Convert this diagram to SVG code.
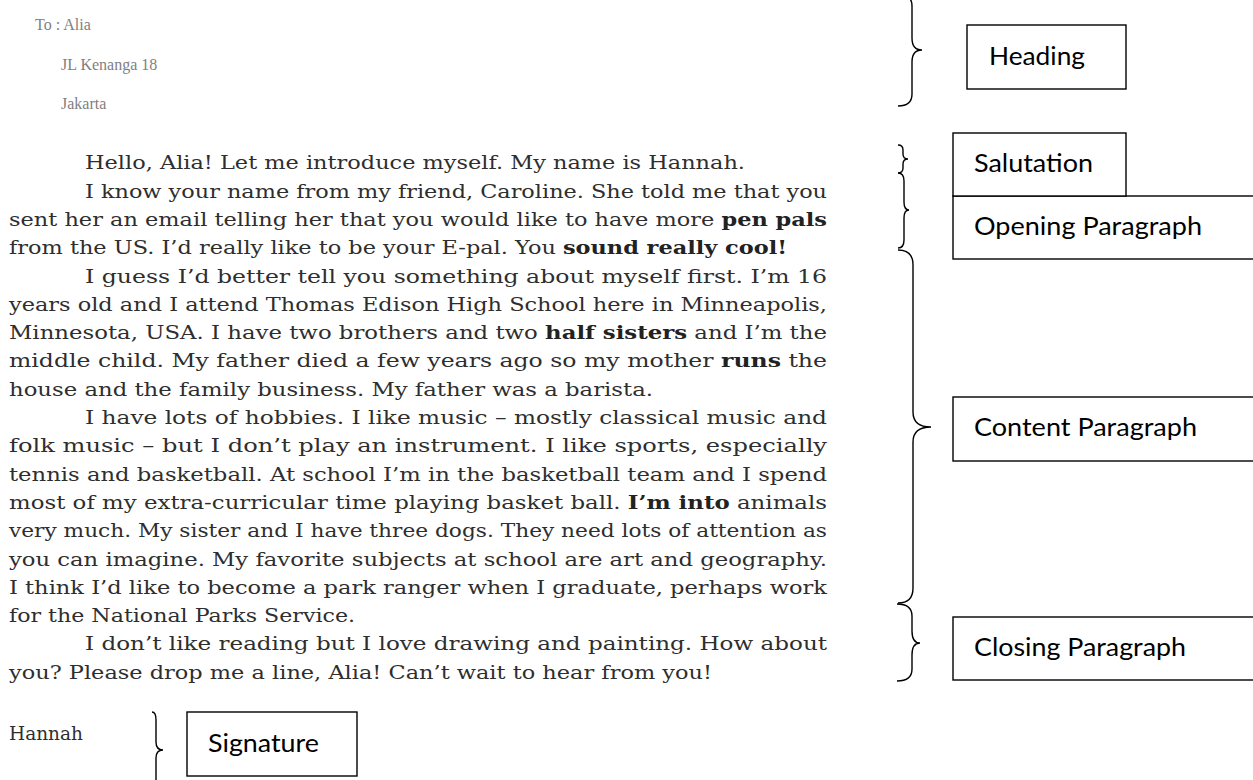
<svg xmlns="http://www.w3.org/2000/svg" width="1253" height="780" viewBox="0 0 1253 780">
<style>
.hd{font-family:"Liberation Serif","Times New Roman",serif;font-size:16px;fill:#7f7f7f}
.bd{font-family:"DejaVu Serif","Liberation Serif",serif;font-size:18.5px;fill:#2e2e2e}
.b{font-weight:bold;fill:#222}
.lb{font-family:Lato,"Open Sans","Liberation Sans",sans-serif;font-size:25px;fill:#000}
.box{fill:#fff;stroke:#000;stroke-width:1.4}
.br{fill:none;stroke:#000;stroke-width:1.4}
</style>
<rect width="1253" height="780" fill="#fff"/>
<g id="letter-heading">
<text class="hd" x="35" y="30">To : Alia</text>
<text class="hd" x="61" y="70">JL Kenanga 18</text>
<text class="hd" x="61" y="109">Jakarta</text>
</g>
<g id="letter-body">
<text class="bd" x="85" y="169.3" textLength="660" lengthAdjust="spacingAndGlyphs">Hello, Alia! Let me introduce myself. My name is Hannah.</text>
<text class="bd" x="85" y="197.6" textLength="742" lengthAdjust="spacingAndGlyphs">I know your name from my friend, Caroline. She told me that you</text>
<text class="bd" x="9" y="225.9" textLength="818" lengthAdjust="spacingAndGlyphs">sent her an email telling her that you would like to have more <tspan class="b">pen pals</tspan></text>
<text class="bd" x="9" y="254.2" textLength="778" lengthAdjust="spacingAndGlyphs">from the US. I’d really like to be your E-pal. You <tspan class="b">sound really cool!</tspan></text>
<text class="bd" x="85" y="282.5" textLength="742" lengthAdjust="spacingAndGlyphs">I guess I’d better tell you something about myself first. I’m 16</text>
<text class="bd" x="9" y="310.8" textLength="818" lengthAdjust="spacingAndGlyphs">years old and I attend Thomas Edison High School here in Minneapolis,</text>
<text class="bd" x="9" y="339.1" textLength="818" lengthAdjust="spacingAndGlyphs">Minnesota, USA. I have two brothers and two <tspan class="b">half sisters</tspan> and I’m the</text>
<text class="bd" x="9" y="367.4" textLength="818" lengthAdjust="spacingAndGlyphs">middle child. My father died a few years ago so my mother <tspan class="b">runs</tspan> the</text>
<text class="bd" x="9" y="395.7" textLength="644" lengthAdjust="spacingAndGlyphs">house and the family business. My father was a barista.</text>
<text class="bd" x="85" y="424" textLength="742" lengthAdjust="spacingAndGlyphs">I have lots of hobbies. I like music – mostly classical music and</text>
<text class="bd" x="9" y="452.3" textLength="818" lengthAdjust="spacingAndGlyphs">folk music – but I don’t play an instrument. I like sports, especially</text>
<text class="bd" x="9" y="480.6" textLength="818" lengthAdjust="spacingAndGlyphs">tennis and basketball. At school I’m in the basketball team and I spend</text>
<text class="bd" x="9" y="508.9" textLength="818" lengthAdjust="spacingAndGlyphs">most of my extra-curricular time playing basket ball. <tspan class="b">I’m into</tspan> animals</text>
<text class="bd" x="9" y="537.2" textLength="818" lengthAdjust="spacingAndGlyphs">very much. My sister and I have three dogs. They need lots of attention as</text>
<text class="bd" x="9" y="565.5" textLength="818" lengthAdjust="spacingAndGlyphs">you can imagine. My favorite subjects at school are art and geography.</text>
<text class="bd" x="9" y="593.8" textLength="818" lengthAdjust="spacingAndGlyphs">I think I’d like to become a park ranger when I graduate, perhaps work</text>
<text class="bd" x="9" y="622.1" textLength="346" lengthAdjust="spacingAndGlyphs">for the National Parks Service.</text>
<text class="bd" x="85" y="650.4" textLength="742" lengthAdjust="spacingAndGlyphs">I don’t like reading but I love drawing and painting. How about</text>
<text class="bd" x="9" y="678.7" textLength="703" lengthAdjust="spacingAndGlyphs">you? Please drop me a line, Alia! Can’t wait to hear from you!</text>
<text class="bd" x="9" y="740">Hannah</text>
</g>
<g id="connectors">
<path class="br" d="M898,-6 Q912,-6 912,6 L912,38 Q912,50 922,50 Q912,50 912,62 L912,94 Q912,106 898,106"/>
<path class="br" d="M898,145 Q903,145 903,150 L903,154 Q903,159 908,159 Q903,159 903,164 L903,168 Q903,173 898,173"/>
<path class="br" d="M898,173 Q904,173 904,181 L904,202 Q904,210 909,210 Q904,210 904,218 L904,240 Q904,248 898,248"/>
<path class="br" d="M898,250 Q913,250 913,265 L913,412 Q913,427 931,427 Q913,427 913,442 L913,588 Q913,603 898,603"/>
<path class="br" d="M897,604 Q912,604 912,616 L912,631 Q912,643 920,643 Q912,643 912,655 L912,669 Q912,681 897,681"/>
<path class="br" d="M152,712 Q156,712 156,720 L156,742 Q156,750 163,750 Q156,750 156,758 L156,780 Q156,788 152,788"/>
</g>
<g id="node-heading">
<rect class="box" x="967" y="25" width="159" height="64"/>
<text class="lb" x="989" y="65" textLength="96" lengthAdjust="spacingAndGlyphs">Heading</text>
</g>
<g id="node-opening">
<rect class="box" x="953" y="196" width="320" height="63"/>
<text class="lb" x="974" y="235" textLength="228" lengthAdjust="spacingAndGlyphs">Opening Paragraph</text>
</g>
<g id="node-salutation">
<rect class="box" x="953" y="133" width="173" height="63"/>
<text class="lb" x="974" y="172" textLength="119" lengthAdjust="spacingAndGlyphs">Salutation</text>
</g>
<g id="node-content">
<rect class="box" x="953" y="397" width="320" height="64"/>
<text class="lb" x="974" y="436" textLength="223" lengthAdjust="spacingAndGlyphs">Content Paragraph</text>
</g>
<g id="node-closing">
<rect class="box" x="953" y="617" width="320" height="63"/>
<text class="lb" x="974" y="656" textLength="212" lengthAdjust="spacingAndGlyphs">Closing Paragraph</text>
</g>
<g id="node-signature">
<rect class="box" x="187" y="712" width="170" height="64"/>
<text class="lb" x="208" y="752" textLength="111" lengthAdjust="spacingAndGlyphs">Signature</text>
</g>
</svg>
